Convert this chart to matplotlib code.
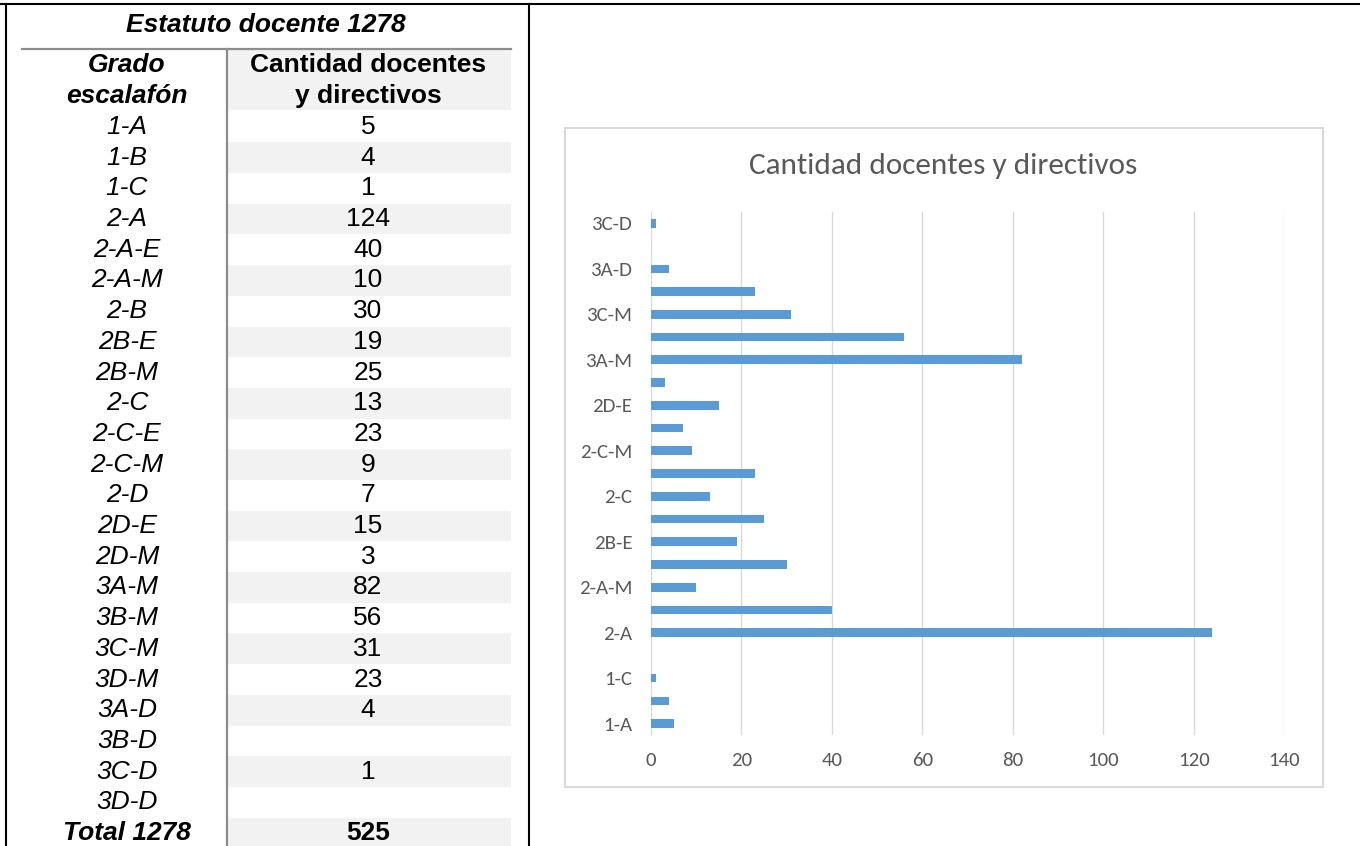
import matplotlib
matplotlib.use("Agg")
import matplotlib.pyplot as plt
from matplotlib.patches import Rectangle
from matplotlib.lines import Line2D
from matplotlib import font_manager as fm

# ---------------- data ----------------
table_title = "Estatuto docente 1278"
col1_header = ["Grado", "escalafón"]
col2_header = ["Cantidad docentes", "y directivos"]
grados = ["1-A", "1-B", "1-C", "2-A", "2-A-E", "2-A-M", "2-B", "2B-E", "2B-M",
          "2-C", "2-C-E", "2-C-M", "2-D", "2D-E", "2D-M", "3A-M", "3B-M",
          "3C-M", "3D-M", "3A-D", "3B-D", "3C-D", "3D-D"]
cantidades = ["5", "4", "1", "124", "40", "10", "30", "19", "25", "13", "23",
              "9", "7", "15", "3", "82", "56", "31", "23", "4", "", "1", ""]
total_label = "Total 1278"
total_value = "525"

chart_title = "Cantidad docentes y directivos"
chart_categories = ["1-A", "1-B", "1-C", "", "2-A", "2-A-E", "2-A-M", "2-B",
                    "2B-E", "2B-M", "2-C", "2-C-E", "2-C-M", "2-D", "2D-E",
                    "2D-M", "3A-M", "3B-M", "3C-M", "3D-M", "3A-D", "3B-D", "3C-D"]
chart_values = [5, 4, 1, 0, 124, 40, 10, 30, 19, 25, 13, 23, 9, 7, 15, 3, 82,
                56, 31, 23, 4, 0, 1]
x_ticks = [0, 20, 40, 60, 80, 100, 120, 140]

# ---------------- fonts ----------------
def have(name):
    try:
        fm.findfont(fm.FontProperties(family=name), fallback_to_default=False)
        return True
    except Exception:
        return False

chart_font = "Carlito" if have("Carlito") else "Lato"
table_font = "Liberation Sans"
title_fs = 22.5 if chart_font == "Carlito" else 20.0
tick_fs = 15.0 if chart_font == "Carlito" else 13.5

W, H = 1360, 846
fig = plt.figure(figsize=(W / 100, H / 100), dpi=100)

def fx(px):
    return px / W

def fy(py):
    return 1 - py / H

# ---------------- frame lines ----------------
blk = 1.5
fig.add_artist(Line2D([0, 1], [fy(4), fy(4)], color="black", lw=blk, transform=fig.transFigure))
fig.add_artist(Line2D([fx(5.5), fx(5.5)], [fy(4), 0], color="black", lw=blk, transform=fig.transFigure))
fig.add_artist(Line2D([fx(529), fx(529)], [fy(4), 0], color="black", lw=blk, transform=fig.transFigure))

# ---------------- table ----------------
fs = 19.0
c1x, c2x = 127, 368
sh_left, sh_right = 227, 511
shade = "#F2F2F2"

fig.text(fx(266), fy(25), table_title, ha="center", va="center", fontsize=fs,
         fontweight="bold", fontstyle="italic", family=table_font)
# header shading
fig.add_artist(Rectangle((fx(sh_left), fy(110)), fx(sh_right) - fx(sh_left), fy(49) - fy(110),
                         transform=fig.transFigure, facecolor=shade, edgecolor="none", zorder=0))
fig.add_artist(Line2D([fx(22), fx(sh_right)], [fy(49), fy(49)], color="#8C8C8C", lw=1.6,
                      transform=fig.transFigure))
fig.add_artist(Line2D([fx(227), fx(227)], [fy(49), 0], color="#8C8C8C", lw=1.6,
                      transform=fig.transFigure))
for k, (a, b) in enumerate(zip(col1_header, col2_header)):
    yy = 65 + k * 31
    fig.text(fx(c1x), fy(yy), a, ha="center", va="center", fontsize=fs,
             fontweight="bold", fontstyle="italic", family=table_font)
    fig.text(fx(c2x), fy(yy), b, ha="center", va="center", fontsize=fs,
             fontweight="bold", family=table_font)

pitch = (833 - 127) / 23
rows = list(zip(grados, cantidades)) + [(total_label, total_value)]
for i, (g, c) in enumerate(rows):
    yc = 127 + i * pitch
    if i % 2 == 1:
        fig.add_artist(Rectangle((fx(sh_left), fy(yc + pitch / 2)), fx(sh_right) - fx(sh_left),
                                 fy(yc - pitch / 2) - fy(yc + pitch / 2),
                                 transform=fig.transFigure, facecolor=shade,
                                 edgecolor="none", zorder=0))
    bold = i == len(rows) - 1
    fig.text(fx(c1x), fy(yc), g, ha="center", va="center", fontsize=fs,
             fontstyle="italic", fontweight="bold" if bold else "normal", family=table_font)
    fig.text(fx(c2x), fy(yc), c, ha="center", va="center", fontsize=fs,
             fontweight="bold" if bold else "normal", family=table_font)

# ---------------- chart box ----------------
fig.add_artist(Rectangle((fx(565), fy(787)), fx(1323) - fx(565), fy(128) - fy(787),
                         transform=fig.transFigure, facecolor="white",
                         edgecolor="#D9D9D9", lw=1.5, zorder=0.5))
fig.text(fx(943), fy(166), chart_title, ha="center", va="center",
         fontsize=title_fs, color="#595959", family=chart_font)

ax_l, ax_r, ax_t, ax_b = 651, 1284, 212, 735
ax = fig.add_axes([fx(ax_l), fy(ax_b), fx(ax_r) - fx(ax_l), fy(ax_t) - fy(ax_b)])
ax.set_zorder(2)
ax.set_facecolor("none")
ypos = list(range(len(chart_categories)))
ax.barh(ypos, chart_values, height=0.38, color="#5B9BD5", zorder=3)
ax.set_xlim(0, 140)
ax.set_ylim(-0.5, len(chart_categories) - 0.5)
ax.set_xticks(x_ticks)
ax.set_xticklabels([str(v) for v in x_ticks])
ax.set_yticks(ypos)
ax.set_yticklabels([c if i % 2 == 0 else "" for i, c in enumerate(chart_categories)])
ax.grid(axis="x", color="#D9D9D9", lw=1.0, zorder=0)
for s in ax.spines.values():
    s.set_visible(False)
ax.tick_params(axis="both", length=0, colors="#595959", labelsize=tick_fs)
ax.tick_params(axis="y", pad=13.5)
ax.tick_params(axis="x", pad=12)
for lab in ax.get_xticklabels() + ax.get_yticklabels():
    lab.set_family(chart_font)

fig.savefig("out.png", dpi=100)
